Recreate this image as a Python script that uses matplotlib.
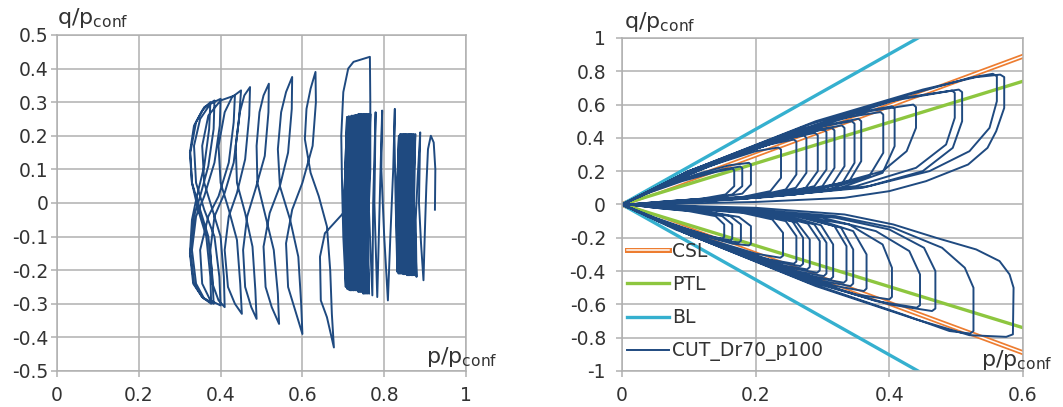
import numpy as np
import matplotlib
matplotlib.use('Agg')
import matplotlib.pyplot as plt
import matplotlib.patheffects as pe

plt.rcParams['font.family'] = 'DejaVu Sans'
plt.rcParams['mathtext.fontset'] = 'dejavusans'

# ---- left panel: q/p_conf vs p/p_conf, one continuous trace in three stages
stage1 = [(0.924, -0.02), (0.925, 0.10), (0.921, 0.18), (0.914, 0.20), (0.907, 0.16), (0.903, 0.05),
          (0.899, -0.10), (0.896, -0.23), (0.890, -0.12), (0.885, 0.0), (0.888, 0.21), (0.882, 0.08),
          (0.877, -0.05), (0.879, -0.22), (0.873, 0.0), (0.876, 0.205), (0.870, 0.0), (0.873, -0.215),
          (0.867, 0.0), (0.872, 0.205), (0.866, 0.0), (0.869, -0.215), (0.864, 0.0), (0.869, 0.205),
          (0.862, 0.0), (0.866, -0.215), (0.861, 0.0), (0.866, 0.205), (0.859, 0.0), (0.862, -0.215),
          (0.857, 0.0), (0.863, 0.205), (0.856, 0.0), (0.859, -0.215), (0.854, 0.0), (0.860, 0.205),
          (0.853, 0.0), (0.856, -0.215), (0.851, 0.0), (0.857, 0.205), (0.850, 0.0), (0.853, -0.212),
          (0.848, 0.0), (0.854, 0.205), (0.847, 0.0), (0.850, -0.212), (0.845, 0.0), (0.851, 0.205),
          (0.844, 0.0), (0.847, -0.212), (0.842, 0.0), (0.848, 0.205), (0.841, 0.0), (0.844, -0.21),
          (0.839, 0.0), (0.845, 0.205), (0.838, 0.0), (0.841, -0.21), (0.836, 0.0), (0.842, 0.205),
          (0.835, 0.0), (0.838, -0.21), (0.833, 0.0), (0.839, 0.205), (0.832, 0.0), (0.835, -0.21),
          (0.831, 0.0), (0.836, 0.20), (0.830, 0.0), (0.832, -0.205)]

stage2 = [(0.828, 0.0), (0.825, 0.20), (0.826, 0.28), (0.822, 0.10), (0.815, -0.10), (0.809, -0.29),
          (0.800, -0.10), (0.793, 0.10), (0.795, 0.275), (0.790, 0.05), (0.783, -0.28), (0.776, 0.0),
          (0.779, 0.27), (0.773, 0.0), (0.771, -0.275), (0.762, 0.0), (0.766, 0.265), (0.759, 0.0),
          (0.763, -0.27), (0.755, 0.0), (0.761, 0.265), (0.754, 0.0), (0.758, -0.27), (0.750, 0.0),
          (0.757, 0.265), (0.749, 0.0), (0.753, -0.27), (0.746, 0.0), (0.753, 0.265), (0.745, 0.0),
          (0.749, -0.27), (0.742, 0.0), (0.749, 0.265), (0.741, 0.0), (0.745, -0.265), (0.738, 0.0),
          (0.745, 0.265), (0.737, 0.0), (0.741, -0.265), (0.734, 0.0), (0.741, 0.265), (0.733, 0.0),
          (0.737, -0.265), (0.730, 0.0), (0.737, 0.265), (0.729, 0.0), (0.733, -0.26), (0.726, 0.0),
          (0.733, 0.262), (0.725, 0.0), (0.729, -0.26), (0.722, 0.0), (0.729, 0.262), (0.721, 0.0),
          (0.725, -0.26), (0.718, 0.0), (0.725, 0.26), (0.717, 0.0), (0.721, -0.26), (0.714, 0.0),
          (0.721, 0.26), (0.713, 0.0), (0.717, -0.26), (0.710, 0.0), (0.717, 0.258), (0.709, 0.0),
          (0.713, -0.258), (0.706, 0.0), (0.713, 0.258), (0.705, 0.0), (0.709, -0.255), (0.702, 0.0),
          (0.709, 0.255), (0.702, 0.0), (0.706, -0.25), (0.700, -0.10), (0.697, 0.05), (0.695, 0.20),
          (0.700, 0.33), (0.712, 0.40), (0.725, 0.42), (0.765, 0.435)]

stage3 = [(0.766, 0.30), (0.766, 0.10), (0.762, -0.02), (0.700, -0.03), (0.655, -0.09), (0.643, -0.16),
          (0.645, -0.29), (0.660, -0.34), (0.677, -0.43),
          (0.672, -0.33), (0.668, -0.20), (0.660, -0.07), (0.640, 0.02), (0.620, 0.09), (0.606, 0.19),
          (0.610, 0.28), (0.620, 0.34), (0.632, 0.39),
          (0.633, 0.30), (0.625, 0.17), (0.600, 0.06), (0.575, -0.02), (0.560, -0.12), (0.565, -0.25),
          (0.585, -0.33), (0.600, -0.39),
          (0.597, -0.30), (0.590, -0.16), (0.570, -0.05), (0.545, 0.05), (0.540, 0.16), (0.548, 0.27),
          (0.560, 0.33), (0.575, 0.375),
          (0.574, 0.28), (0.565, 0.15), (0.545, 0.05), (0.520, -0.03), (0.505, -0.13), (0.510, -0.25),
          (0.525, -0.31), (0.543, -0.36),
          (0.540, -0.27), (0.530, -0.14), (0.510, -0.04), (0.490, 0.06), (0.488, 0.17), (0.495, 0.27),
          (0.505, 0.32), (0.518, 0.355),
          (0.517, 0.27), (0.508, 0.14), (0.485, 0.04), (0.465, -0.04), (0.455, -0.14), (0.460, -0.25),
          (0.475, -0.31), (0.488, -0.345),
          (0.485, -0.26), (0.478, -0.13), (0.460, -0.03), (0.440, 0.06), (0.437, 0.17), (0.447, 0.27),
          (0.458, 0.32), (0.472, 0.345),
          (0.470, 0.26), (0.460, 0.13), (0.440, 0.03), (0.420, -0.04), (0.410, -0.14), (0.418, -0.25),
          (0.435, -0.30), (0.452, -0.33),
          (0.448, -0.24), (0.440, -0.11), (0.420, -0.02), (0.400, 0.06), (0.395, 0.17), (0.410, 0.27),
          (0.428, 0.315), (0.450, 0.335),
          (0.445, 0.25), (0.432, 0.12), (0.410, 0.03), (0.385, -0.04), (0.375, -0.14), (0.380, -0.24),
          (0.395, -0.29), (0.410, -0.31),
          (0.408, -0.22), (0.400, -0.10), (0.380, -0.02), (0.360, 0.06), (0.355, 0.17), (0.370, 0.26),
          (0.400, 0.305), (0.435, 0.32),
          (0.432, 0.24), (0.420, 0.12), (0.395, 0.02), (0.370, -0.04), (0.350, -0.14), (0.355, -0.24),
          (0.375, -0.29), (0.400, -0.305),
          (0.397, -0.22), (0.385, -0.10), (0.360, -0.02), (0.340, 0.06), (0.335, 0.17), (0.350, 0.25),
          (0.375, 0.295), (0.400, 0.31),
          (0.398, 0.23), (0.385, 0.12), (0.360, 0.02), (0.340, -0.04), (0.330, -0.14), (0.340, -0.24),
          (0.360, -0.285), (0.383, -0.30),
          (0.380, -0.22), (0.370, -0.10), (0.350, -0.02), (0.330, 0.06), (0.326, 0.15), (0.340, 0.24),
          (0.360, 0.285), (0.385, 0.305),
          (0.383, 0.22), (0.370, 0.11), (0.350, 0.02), (0.335, -0.04), (0.326, -0.15), (0.335, -0.24),
          (0.355, -0.28), (0.377, -0.30),
          (0.375, -0.22), (0.365, -0.10), (0.345, -0.02), (0.330, 0.06), (0.325, 0.15), (0.335, 0.23),
          (0.355, 0.275), (0.375, 0.30),
          (0.372, 0.22), (0.360, 0.11), (0.342, 0.02), (0.330, -0.05), (0.325, -0.15), (0.333, -0.24),
          (0.355, -0.28), (0.375, -0.295)]

# ---- right panel: reference lines and the CUT_Dr70_p100 loops
csl_p = [0.6, 0.0, 0.6]
csl_q = [0.89, 0.0, -0.89]
ptl_p = [0.6, 0.0, 0.6]
ptl_q = [0.74, 0.0, -0.74]
bl_p = [0.443, 0.0, 0.443]
bl_q = [1.0, 0.0, -1.0]

upper_loops = [
    [(0.0, 0.0), (0.04, 0.07), (0.09, 0.14), (0.14, 0.195), (0.165, 0.215), (0.168, 0.205), (0.168, 0.11), (0.155, 0.06), (0.12, 0.035), (0.06, 0.015), (0.01, 0.0)],
    [(0.0, 0.0), (0.05, 0.09), (0.1, 0.16), (0.15, 0.21), (0.177, 0.228), (0.18, 0.218), (0.18, 0.11), (0.165, 0.06), (0.13, 0.035), (0.07, 0.02), (0.01, 0.0)],
    [(0.0, 0.0), (0.05, 0.09), (0.11, 0.18), (0.16, 0.235), (0.19, 0.25), (0.193, 0.24), (0.193, 0.12), (0.18, 0.065), (0.14, 0.04), (0.07, 0.02), (0.01, 0.0)],
    [(0.0, 0.0), (0.06, 0.11), (0.13, 0.23), (0.2, 0.32), (0.234, 0.342), (0.238, 0.33), (0.238, 0.16), (0.222, 0.08), (0.18, 0.045), (0.1, 0.02), (0.02, 0.0)],
    [(0.0, 0.0), (0.06, 0.12), (0.14, 0.26), (0.22, 0.36), (0.257, 0.39), (0.261, 0.378), (0.261, 0.18), (0.245, 0.09), (0.2, 0.05), (0.11, 0.025), (0.02, 0.0)],
    [(0.0, 0.0), (0.07, 0.13), (0.15, 0.27), (0.23, 0.38), (0.272, 0.415), (0.276, 0.4), (0.276, 0.19), (0.26, 0.1), (0.21, 0.05), (0.12, 0.025), (0.02, 0.0)],
    [(0.0, 0.0), (0.07, 0.13), (0.16, 0.28), (0.25, 0.4), (0.289, 0.43), (0.293, 0.415), (0.293, 0.2), (0.275, 0.1), (0.22, 0.055), (0.12, 0.025), (0.02, 0.0)],
    [(0.0, 0.0), (0.07, 0.14), (0.17, 0.3), (0.26, 0.42), (0.302, 0.45), (0.306, 0.435), (0.306, 0.21), (0.288, 0.11), (0.23, 0.055), (0.13, 0.025), (0.02, 0.0)],
    [(0.0, 0.0), (0.08, 0.15), (0.18, 0.31), (0.27, 0.43), (0.314, 0.46), (0.318, 0.445), (0.318, 0.22), (0.3, 0.11), (0.24, 0.055), (0.13, 0.025), (0.02, 0.0)],
    [(0.0, 0.0), (0.08, 0.15), (0.19, 0.32), (0.28, 0.44), (0.329, 0.475), (0.333, 0.46), (0.333, 0.23), (0.315, 0.12), (0.25, 0.06), (0.14, 0.025), (0.02, 0.0)],
    [(0.0, 0.0), (0.08, 0.16), (0.2, 0.34), (0.3, 0.47), (0.344, 0.5), (0.348, 0.485), (0.348, 0.25), (0.33, 0.13), (0.26, 0.06), (0.14, 0.025), (0.02, 0.0)],
    [(0.0, 0.0), (0.09, 0.17), (0.21, 0.36), (0.31, 0.48), (0.354, 0.515), (0.358, 0.5), (0.358, 0.26), (0.34, 0.14), (0.27, 0.065), (0.15, 0.03), (0.02, 0.0)],
    [(0.0, 0.0), (0.09, 0.17), (0.22, 0.38), (0.33, 0.52), (0.387, 0.555), (0.391, 0.54), (0.391, 0.31), (0.37, 0.17), (0.3, 0.08), (0.17, 0.03), (0.02, 0.0)],
    [(0.0, 0.0), (0.1, 0.19), (0.24, 0.41), (0.35, 0.55), (0.404, 0.59), (0.408, 0.575), (0.408, 0.35), (0.39, 0.19), (0.32, 0.09), (0.18, 0.035), (0.02, 0.0)],
    [(0.0, 0.0), (0.1, 0.19), (0.25, 0.42), (0.37, 0.56), (0.436, 0.6), (0.44, 0.585), (0.44, 0.46), (0.426, 0.32), (0.39, 0.2), (0.3, 0.1), (0.17, 0.035), (0.02, 0.0)],
    [(0.0, 0.0), (0.1, 0.2), (0.26, 0.44), (0.4, 0.62), (0.494, 0.684), (0.498, 0.67), (0.498, 0.52), (0.485, 0.36), (0.44, 0.22), (0.35, 0.11), (0.2, 0.04), (0.02, 0.0)],
    [(0.0, 0.0), (0.1, 0.2), (0.27, 0.45), (0.42, 0.64), (0.504, 0.69), (0.509, 0.675), (0.509, 0.5), (0.495, 0.34), (0.45, 0.2), (0.36, 0.1), (0.2, 0.04), (0.02, 0.0)],
    [(0.0, 0.0), (0.1, 0.2), (0.28, 0.48), (0.43, 0.66), (0.52, 0.76), (0.555, 0.785), (0.561, 0.77), (0.561, 0.62), (0.55, 0.46), (0.52, 0.32), (0.46, 0.2), (0.37, 0.11), (0.22, 0.045), (0.02, 0.0)],
    [(0.0, 0.0), (0.1, 0.2), (0.29, 0.5), (0.45, 0.69), (0.53, 0.765), (0.566, 0.78), (0.572, 0.765), (0.572, 0.58), (0.56, 0.44), (0.547, 0.34), (0.518, 0.24), (0.455, 0.14), (0.4, 0.08), (0.333, 0.04), (0.2, 0.015), (0.02, 0.0)],
]

lower_loops = [
    [(0.0, 0.0), (0.04, -0.07), (0.09, -0.14), (0.13, -0.19), (0.15, -0.205), (0.153, -0.195), (0.153, -0.12), (0.14, -0.07), (0.1, -0.04), (0.05, -0.02), (0.01, 0.0)],
    [(0.0, 0.0), (0.05, -0.08), (0.1, -0.15), (0.14, -0.2), (0.162, -0.215), (0.165, -0.205), (0.165, -0.12), (0.15, -0.07), (0.11, -0.04), (0.05, -0.02), (0.01, 0.0)],
    [(0.0, 0.0), (0.05, -0.085), (0.1, -0.16), (0.15, -0.215), (0.175, -0.228), (0.178, -0.218), (0.178, -0.12), (0.162, -0.07), (0.12, -0.04), (0.06, -0.02), (0.01, 0.0)],
    [(0.0, 0.0), (0.05, -0.09), (0.11, -0.175), (0.165, -0.235), (0.19, -0.246), (0.193, -0.235), (0.193, -0.13), (0.175, -0.075), (0.13, -0.045), (0.06, -0.02), (0.01, 0.0)],
    [(0.0, 0.0), (0.06, -0.1), (0.13, -0.21), (0.2, -0.295), (0.237, -0.32), (0.241, -0.308), (0.241, -0.17), (0.225, -0.09), (0.18, -0.05), (0.1, -0.025), (0.02, 0.0)],
    [(0.0, 0.0), (0.06, -0.11), (0.14, -0.23), (0.22, -0.33), (0.257, -0.356), (0.261, -0.343), (0.261, -0.19), (0.245, -0.1), (0.19, -0.05), (0.11, -0.025), (0.02, 0.0)],
    [(0.0, 0.0), (0.07, -0.12), (0.15, -0.25), (0.23, -0.345), (0.267, -0.37), (0.271, -0.357), (0.271, -0.2), (0.255, -0.1), (0.2, -0.05), (0.11, -0.025), (0.02, 0.0)],
    [(0.0, 0.0), (0.07, -0.12), (0.16, -0.26), (0.24, -0.365), (0.277, -0.39), (0.281, -0.376), (0.281, -0.21), (0.262, -0.11), (0.21, -0.055), (0.12, -0.025), (0.02, 0.0)],
    [(0.0, 0.0), (0.07, -0.125), (0.17, -0.28), (0.25, -0.38), (0.292, -0.41), (0.296, -0.396), (0.296, -0.22), (0.278, -0.115), (0.22, -0.055), (0.12, -0.025), (0.02, 0.0)],
    [(0.0, 0.0), (0.08, -0.14), (0.18, -0.3), (0.26, -0.4), (0.302, -0.43), (0.306, -0.415), (0.306, -0.23), (0.288, -0.12), (0.23, -0.06), (0.13, -0.025), (0.02, 0.0)],
    [(0.0, 0.0), (0.08, -0.14), (0.19, -0.31), (0.27, -0.42), (0.312, -0.45), (0.316, -0.435), (0.316, -0.24), (0.298, -0.125), (0.24, -0.06), (0.13, -0.025), (0.02, 0.0)],
    [(0.0, 0.0), (0.08, -0.15), (0.2, -0.33), (0.29, -0.44), (0.332, -0.47), (0.336, -0.455), (0.336, -0.25), (0.318, -0.13), (0.255, -0.065), (0.14, -0.025), (0.02, 0.0)],
    [(0.0, 0.0), (0.09, -0.16), (0.21, -0.35), (0.3, -0.46), (0.342, -0.49), (0.346, -0.475), (0.346, -0.27), (0.328, -0.14), (0.26, -0.065), (0.14, -0.025), (0.02, 0.0)],
    [(0.0, 0.0), (0.09, -0.16), (0.22, -0.37), (0.32, -0.49), (0.362, -0.52), (0.366, -0.505), (0.366, -0.3), (0.346, -0.16), (0.28, -0.075), (0.15, -0.03), (0.02, 0.0)],
    [(0.0, 0.0), (0.1, -0.18), (0.24, -0.4), (0.35, -0.54), (0.4, -0.57), (0.404, -0.555), (0.404, -0.38), (0.39, -0.24), (0.34, -0.12), (0.25, -0.06), (0.14, -0.025), (0.02, 0.0)],
    [(0.0, 0.0), (0.1, -0.18), (0.26, -0.43), (0.38, -0.58), (0.441, -0.62), (0.446, -0.605), (0.446, -0.42), (0.43, -0.28), (0.38, -0.16), (0.3, -0.08), (0.18, -0.03), (0.02, 0.0)],
    [(0.0, 0.0), (0.1, -0.18), (0.27, -0.45), (0.4, -0.6), (0.464, -0.64), (0.469, -0.625), (0.469, -0.4), (0.452, -0.26), (0.4, -0.15), (0.32, -0.08), (0.19, -0.03), (0.02, 0.0)],
    [(0.0, 0.0), (0.1, -0.18), (0.28, -0.47), (0.42, -0.66), (0.49, -0.76), (0.521, -0.775), (0.526, -0.76), (0.526, -0.5), (0.513, -0.38), (0.479, -0.26), (0.406, -0.14), (0.32, -0.07), (0.18, -0.025), (0.02, 0.0)],
    [(0.0, 0.0), (0.1, -0.18), (0.29, -0.49), (0.44, -0.69), (0.52, -0.785), (0.575, -0.795), (0.585, -0.78), (0.586, -0.5), (0.58, -0.42), (0.565, -0.34), (0.53, -0.27), (0.47, -0.2), (0.406, -0.12), (0.333, -0.06), (0.2, -0.02), (0.02, 0.0)],
]

left_xticks = [0, 0.2, 0.4, 0.6, 0.8, 1]
left_xlabels = ['0', '0.2', '0.4', '0.6', '0.8', '1']
left_yticks = [-0.5, -0.4, -0.3, -0.2, -0.1, 0, 0.1, 0.2, 0.3, 0.4, 0.5]
left_ylabels = ['-0.5', '-0.4', '-0.3', '-0.2', '-0.1', '0', '0.1', '0.2', '0.3', '0.4', '0.5']
right_xticks = [0, 0.2, 0.4, 0.6]
right_xlabels = ['0', '0.2', '0.4', '0.6']
right_yticks = [-1, -0.8, -0.6, -0.4, -0.2, 0, 0.2, 0.4, 0.6, 0.8, 1]
right_ylabels = ['-1', '-0.8', '-0.6', '-0.4', '-0.2', '0', '0.2', '0.4', '0.6', '0.8', '1']

blue = '#1f4a80'
grid_c = '#b0b0b0'
text_c = '#333333'


def style_axes(ax, xt, xl, yt, yl, ypad):
    ax.set_xticks(xt)
    ax.set_xticklabels(xl)
    ax.set_yticks(yt)
    ax.set_yticklabels(yl)
    ax.grid(True, color=grid_c, linewidth=1.1)
    ax.set_axisbelow(True)
    for s in ax.spines.values():
        s.set_color(grid_c)
        s.set_linewidth(1.1)
    ax.tick_params(axis='both', colors=grid_c, labelcolor=text_c, labelsize=13.5,
                   length=4.5, width=1.1, direction='out')
    ax.tick_params(axis='x', pad=6)
    ax.tick_params(axis='y', pad=ypad)


fig = plt.figure(figsize=(10.63, 4.07), dpi=100)

ax1 = fig.add_axes([0.0536, 0.0885, 0.3848, 0.8256])
left = np.array(stage1 + stage2 + stage3)
ax1.plot(left[:, 0], left[:, 1], color=blue, linewidth=1.4, solid_joinstyle='round')
ax1.set_xlim(0, 1)
ax1.set_ylim(-0.5, 0.5)
style_axes(ax1, left_xticks, left_xlabels, left_yticks, left_ylabels, 1.5)
ax1.text(0.0, 1.05, r'q/p$_{\mathrm{conf}}$', transform=ax1.transAxes, fontsize=16,
         ha='left', va='center', color=text_c)
ax1.text(0.99, -0.458, r'p/p$_{\mathrm{conf}}$', fontsize=16, ha='center', va='center',
         color=text_c, clip_on=False)

ax2 = fig.add_axes([0.5851, 0.0885, 0.3772, 0.8182])
ax2.plot(csl_p, csl_q, color='white', linewidth=1.1, label='CSL',
         path_effects=[pe.Stroke(linewidth=3.6, foreground='#ed7d31'), pe.Normal()])
ax2.plot(ptl_p, ptl_q, color='#8dc63f', linewidth=2.4, label='PTL')
ax2.plot(bl_p, bl_q, color='#35b0cf', linewidth=2.4, label='BL')
right = np.array([pt for loop in lower_loops + upper_loops for pt in loop])
ax2.plot(right[:, 0], right[:, 1], color=blue, linewidth=1.4, solid_joinstyle='round',
         label='CUT_Dr70_p100')
ax2.set_xlim(0, 0.6)
ax2.set_ylim(-1, 1)
style_axes(ax2, right_xticks, right_xlabels, right_yticks, right_ylabels, 7)
ax2.text(0.005, 1.048, r'q/p$_{\mathrm{conf}}$', transform=ax2.transAxes, fontsize=16,
         ha='left', va='center', color=text_c)
ax2.text(0.591, -0.934, r'p/p$_{\mathrm{conf}}$', fontsize=16, ha='center', va='center',
         color=text_c, clip_on=False)
leg = ax2.legend(loc='upper left', bbox_to_anchor=(-0.005, 0.41), frameon=False, fontsize=13.5,
                 handlelength=2.2, handletextpad=0.2, labelspacing=0.75, borderaxespad=0)
for t in leg.get_texts():
    t.set_color(text_c)

fig.savefig('out.png', dpi=100)
